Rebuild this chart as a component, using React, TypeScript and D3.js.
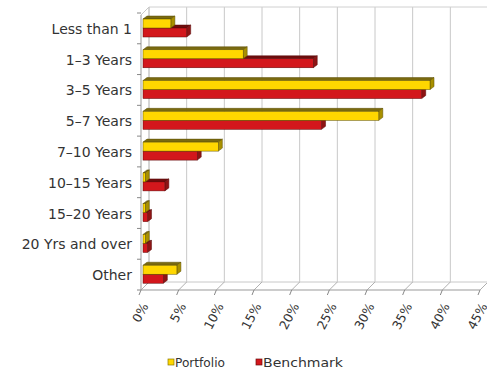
import React from "react";
import * as d3 from "d3";

const categories = ["Less than 1", "1–3 Years", "3–5 Years", "5–7 Years", "7–10 Years", "10–15 Years", "15–20 Years", "20 Yrs and over", "Other"];
const portfolio = [3.7, 13.3, 38.1, 31.3, 10.0, 0.3, 0.3, 0.3, 4.5];
const benchmark = [5.8, 22.6, 37.0, 23.7, 7.2, 2.9, 0.6, 0.6, 2.7];
const xTicks = [0, 5, 10, 15, 20, 25, 30, 35, 40, 45];
const seriesNames = ["Portfolio", "Benchmark"];

const W = 487, H = 372;
const FONT = "'DejaVu Sans', Verdana, sans-serif";

export default function App() {
  const x = d3.scaleLinear().domain([0, 45]).range([141, 480]);
  const y = d3.scaleBand<string>().domain(categories).range([13, 290]);
  const WDX = 8, WDY = 8; // wall depth
  const BDX = 4, BDY = 3; // bar depth
  const floorY = 290;
  const topY = 7;

  const bar = (v: number, yTop: number, yBot: number, front: string, top: string, side: string, stroke: string, key: string) => {
    const x0 = x(0) + 2;
    const x1 = x(v) + 2;
    return (
      <g key={key}>
        <polygon points={`${x0},${yTop} ${x0 + BDX},${yTop - BDY} ${x1 + BDX},${yTop - BDY} ${x1},${yTop}`} fill={top} stroke={stroke} strokeWidth={0.5} />
        <polygon points={`${x1},${yTop} ${x1 + BDX},${yTop - BDY} ${x1 + BDX},${yBot - BDY} ${x1},${yBot}`} fill={side} stroke={stroke} strokeWidth={0.5} />
        <rect x={x0} y={yTop} width={Math.max(0.5, x1 - x0)} height={yBot - yTop} fill={front} stroke={stroke} strokeWidth={0.5} />
      </g>
    );
  };

  return (
    <svg width={W} height={H} style={{ position: "absolute", left: 0, top: 0, background: "#fff" }} fontFamily={FONT}>
      {/* back wall gridlines */}
      {xTicks.map((t) => (
        <line key={"g" + t} x1={x(t) + WDX} x2={x(t) + WDX} y1={topY} y2={floorY - WDY} stroke="#c8c8c8" strokeWidth={1} />
      ))}
      <line x1={x(0) + WDX} x2={x(45) + WDX} y1={topY} y2={topY} stroke="#d0d0d0" />
      {/* floor */}
      <line x1={x(0) + WDX} x2={x(45) + WDX} y1={floorY - WDY} y2={floorY - WDY} stroke="#c8c8c8" />
      {xTicks.map((t) => (
        <line key={"f" + t} x1={x(t)} x2={x(t) + WDX} y1={floorY} y2={floorY - WDY} stroke="#b0b0b0" />
      ))}
      <line x1={x(0)} x2={x(45)} y1={floorY} y2={floorY} stroke="#999" />
      {/* left wall */}
      <line x1={x(0)} x2={x(0)} y1={topY + WDY} y2={floorY} stroke="#999" />
      <line x1={x(0) + WDX} x2={x(0) + WDX} y1={topY} y2={floorY - WDY} stroke="#c8c8c8" />
      <line x1={x(0)} x2={x(0) + WDX} y1={topY + WDY} y2={topY} stroke="#c8c8c8" />
      {/* category ticks */}
      {[...categories.map((c) => y(c)!), 290].map((v, i) => (
        <line key={"t" + i} x1={x(0) - 4} x2={x(0)} y1={v} y2={v} stroke="#888" />
      ))}
      {/* x tick marks */}
      {xTicks.map((t) => (
        <line key={"xt" + t} x1={x(t)} x2={x(t) - 2} y1={floorY} y2={floorY + 5} stroke="#888" />
      ))}
      {/* bars */}
      {categories.map((c, i) => {
        const y0 = y(c)!;
        return (
          <g key={c}>
            {bar(benchmark[i], y0 + 15, y0 + 24, "#d3171c", "#6e0d0d", "#8e1414", "#5a0a0a", "b")}
            {bar(portfolio[i], y0 + 6, y0 + 15, "#ffd700", "#7a6a10", "#a89000", "#5a4d00", "p")}
          </g>
        );
      })}
      {/* category labels */}
      {categories.map((c) => (
        <text key={"l" + c} x={132} y={y(c)! + 16} dy="0.35em" textAnchor="end" fontSize={14} fill="#333">
          {c}
        </text>
      ))}
      {/* x tick labels */}
      {xTicks.map((t) => (
        <text key={"xl" + t} transform={`translate(${x(t) + 4},${floorY + 14}) rotate(-62)`} textAnchor="end" dy="0.35em" fontSize={12.5} fill="#333">
          {t + "%"}
        </text>
      ))}
      {/* legend */}
      <g>
        <rect x={168} y={359} width={6} height={6} fill="#ffd700" stroke="#8a7a00" strokeWidth={0.7} />
        <text x={175} y={362.5} dy="0.35em" fontSize={12} fill="#333" textLength={50} lengthAdjust="spacingAndGlyphs">{seriesNames[0]}</text>
        <rect x={256} y={359} width={6} height={6} fill="#d3171c" stroke="#6e0d0d" strokeWidth={0.7} />
        <text x={263} y={362.5} dy="0.35em" fontSize={12} fill="#333" textLength={80} lengthAdjust="spacingAndGlyphs">{seriesNames[1]}</text>
      </g>
    </svg>
  );
}
